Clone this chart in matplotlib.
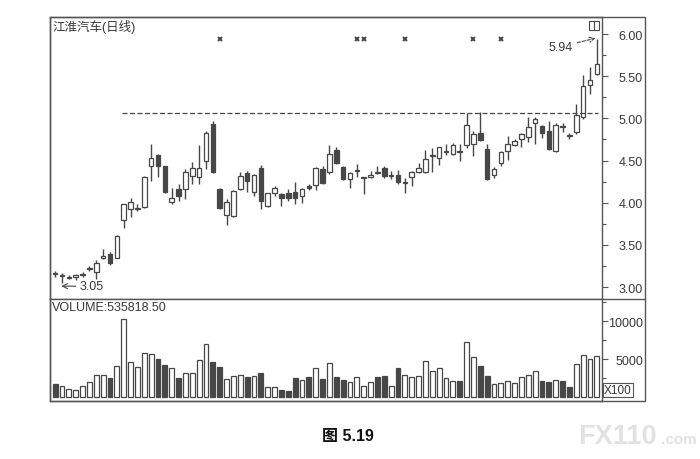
import numpy as np
import matplotlib.pyplot as plt
from matplotlib.patches import Rectangle
from matplotlib.lines import Line2D
from matplotlib.ticker import MultipleLocator

plt.rcParams['font.family'] = ['Liberation Sans', 'Noto Sans CJK SC']

# daily OHLC (80 sessions)
opens = [3.17, 3.13, 3.11, 3.12, 3.14, 3.21, 3.18, 3.35, 3.39, 3.35,
         3.80, 3.93, 3.92, 3.95, 4.43, 4.56, 4.43, 4.01, 4.16, 4.16,
         4.32, 4.30, 4.50, 4.93, 4.16, 3.85, 3.84, 4.16, 4.35, 4.13,
         4.41, 3.96, 4.12, 4.10, 4.12, 4.13, 4.08, 4.20, 4.21, 4.40,
         4.36, 4.62, 4.42, 4.28, 4.37, 4.29, 4.30, 4.36, 4.41, 4.32,
         4.33, 4.23, 4.30, 4.36, 4.36, 4.55, 4.53, 4.60, 4.58, 4.61,
         4.68, 4.70, 4.83, 4.64, 4.33, 4.47, 4.61, 4.68, 4.76, 4.78,
         4.94, 4.91, 4.85, 4.61, 4.91, 4.80, 4.84, 5.01, 5.40, 5.53]
highs = [3.19, 3.17, 3.14, 3.16, 3.18, 3.25, 3.32, 3.45, 3.41, 3.62,
         3.99, 4.06, 3.98, 4.32, 4.70, 4.58, 4.44, 4.18, 4.22, 4.40,
         4.48, 4.68, 4.85, 4.97, 4.17, 4.04, 4.15, 4.36, 4.38, 4.34,
         4.45, 4.12, 4.20, 4.11, 4.16, 4.25, 4.18, 4.22, 4.42, 4.43,
         4.68, 4.66, 4.43, 4.36, 4.46, 4.31, 4.38, 4.43, 4.43, 4.37,
         4.39, 4.29, 4.37, 4.47, 4.63, 4.65, 4.66, 4.70, 4.71, 4.70,
         5.06, 4.85, 5.08, 4.70, 4.42, 4.61, 4.79, 4.75, 4.83, 5.02,
         5.01, 4.92, 4.97, 4.94, 4.95, 4.83, 5.17, 5.51, 5.61, 5.94]
lows = [3.12, 3.05, 3.09, 3.08, 3.12, 3.19, 3.10, 3.33, 3.26, 3.34,
        3.70, 3.83, 3.90, 3.94, 4.26, 4.30, 4.12, 3.99, 4.02, 4.04,
        4.22, 4.22, 4.40, 4.35, 3.93, 3.73, 3.83, 4.15, 4.13, 4.08,
        3.93, 3.95, 4.08, 3.96, 4.02, 3.98, 4.00, 4.15, 4.15, 4.22,
        4.34, 4.46, 4.27, 4.18, 4.30, 4.10, 4.29, 4.34, 4.29, 4.28,
        4.22, 4.12, 4.20, 4.35, 4.35, 4.36, 4.45, 4.57, 4.57, 4.50,
        4.65, 4.55, 4.73, 4.27, 4.29, 4.44, 4.51, 4.67, 4.66, 4.72,
        4.69, 4.77, 4.63, 4.60, 4.84, 4.76, 4.81, 4.99, 5.29, 5.51]
closes = [3.15, 3.14, 3.12, 3.14, 3.16, 3.23, 3.29, 3.37, 3.28, 3.61,
          3.98, 4.01, 3.94, 4.30, 4.53, 4.43, 4.13, 4.05, 4.08, 4.36,
          4.41, 4.41, 4.83, 4.36, 3.94, 4.01, 4.14, 4.32, 4.26, 4.33,
          4.02, 4.11, 4.18, 4.06, 4.06, 4.06, 4.16, 4.18, 4.41, 4.23,
          4.58, 4.47, 4.28, 4.35, 4.39, 4.30, 4.33, 4.35, 4.32, 4.33,
          4.24, 4.25, 4.36, 4.41, 4.52, 4.56, 4.66, 4.61, 4.68, 4.60,
          4.92, 4.82, 4.74, 4.28, 4.40, 4.60, 4.70, 4.73, 4.81, 4.90,
          4.99, 4.83, 4.64, 4.92, 4.90, 4.79, 5.04, 5.38, 5.46, 5.65]
# volume in lots of 100 shares
volumes = [1710, 1490, 1050, 920, 1490, 1930, 2940, 2940, 2460, 4120,
           10260, 4560, 3900, 5750, 5660, 5000, 4210, 3820, 2500, 3160,
           3160, 4910, 6970, 4560, 3900, 2370, 2810, 2900, 2680, 2810,
           3110, 1270, 1270, 960, 830, 2500, 2240, 2680, 3820, 2370,
           4470, 2680, 2240, 1930, 2590, 1490, 1930, 2680, 2810, 1490,
           3820, 2900, 2680, 2720, 4690, 3380, 3820, 2460, 2060, 2150,
           7280, 5220, 4120, 2810, 1710, 1800, 2060, 1800, 2680, 2900,
           3380, 2060, 1930, 2240, 2150, 1360, 4340, 5530, 5000, 5350]

signal_days = [24, 44, 45, 51, 61, 65]
signal_price = 5.94
resistance = 5.06
resistance_start = 10
price_ticks = [3.00, 3.50, 4.00, 4.50, 5.00, 5.50, 6.00]
volume_ticks = [5000, 10000]

W, H = 700, 460
INK = '#474747'
TXT = '#3a3a3a'


def fx(px):
    return px / W


def fy(py):
    return 1 - py / H


def main():
    o = np.array(opens)
    h = np.array(highs)
    l = np.array(lows)
    c = np.array(closes)
    v = np.array(volumes)
    idx = np.arange(len(o))
    down = c < o

    fig = plt.figure(figsize=(W / 100, H / 100), dpi=100)
    ax = fig.add_axes([fx(50), fy(300), fx(552), 282 / H])
    axv = fig.add_axes([fx(50), fy(402), fx(552), 102 / H])

    # --- candles ---
    ax.vlines(idx, l, h, color=INK, lw=1, zorder=1)
    body_lo = np.minimum(o, c)
    body_h = np.maximum(np.abs(c - o), 0.008)
    face = np.where(down, INK, 'white')
    ax.bar(idx, body_h, bottom=body_lo, width=0.68, color=face,
           edgecolor=INK, lw=0.9, zorder=2)

    ax.hlines(resistance, resistance_start - 0.3, idx[-1] + 0.2,
              colors=INK, linestyles=(0, (4, 2)), lw=0.9)
    ax.plot(signal_days, [signal_price] * len(signal_days), 'x',
            color=INK, ms=3.5, mew=1.4)

    ax.annotate('5.94', xy=(idx[-1] - 0.2, 5.95), xytext=(72.0, 5.85),
                fontsize=9, color=TXT, ha='left', va='center',
                arrowprops=dict(arrowstyle='->', color=INK, lw=0.8,
                                linestyle=(0, (3, 1.5)), shrinkA=1, shrinkB=0))
    ax.annotate('3.05', xy=(0.9, 3.01), xytext=(3.6, 3.01),
                fontsize=9, color=TXT, ha='left', va='center',
                arrowprops=dict(arrowstyle='->', color=INK, lw=0.8,
                                shrinkA=1, shrinkB=0))
    ax.text(0.004, 0.968, '江淮汽车(日线)', transform=ax.transAxes,
            fontsize=9, color=TXT, va='center', ha='left')

    ax.set_xlim(-0.75, 79.75)
    ax.set_ylim(2.858, 6.2016)

    # --- volume ---
    vface = np.where(down, INK, 'white')
    axv.bar(idx, v, width=0.72, color=vface, edgecolor=INK, lw=0.9)
    axv.text(0.004, 0.92, 'VOLUME:535818.50', transform=axv.transAxes,
             fontsize=9, color=TXT, va='center', ha='left')
    axv.set_xlim(-0.75, 79.75)
    axv.set_ylim(-526, 12895)

    for a in (ax, axv):
        a.set_xticks([])
        a.yaxis.tick_right()
        for s in a.spines.values():
            s.set_color('#555555')
            s.set_linewidth(1)
        a.tick_params(axis='y', which='both', direction='out', colors='#555555',
                      labelcolor=TXT, labelsize=9, width=0.8)
        a.tick_params(axis='y', which='major', length=4)
        a.tick_params(axis='y', which='minor', length=3)

    ax.set_yticks(price_ticks)
    ax.set_yticklabels([f'{t:.2f}' for t in price_ticks])
    ax.yaxis.set_minor_locator(MultipleLocator(0.25))
    axv.set_yticks(volume_ticks)
    axv.set_yticklabels([str(t) for t in volume_ticks])
    axv.yaxis.set_minor_locator(MultipleLocator(2500))
    for a in (ax, axv):
        a.tick_params(axis='y', which='major', pad=25.5)
        for lab in a.get_yticklabels():
            lab.set_horizontalalignment('right')

    # outer frame incl. the label strip
    fig.add_artist(Rectangle((fx(50), fy(402)), fx(595), 384 / H, fill=False,
                             transform=fig.transFigure, ec='#555555', lw=1))
    fig.add_artist(Line2D([fx(602), fx(645)], [fy(300), fy(300)],
                          transform=fig.transFigure, color='#555555', lw=1))
    fig.text(fx(604), fy(391), 'X100', fontsize=8.5, color=TXT, va='center',
             ha='left', bbox=dict(boxstyle='square,pad=0.12', fc='white',
                                  ec='#555555', lw=0.8))
    # small window icon at top right
    fig.add_artist(Rectangle((fx(589), fy(31)), fx(10), 9 / H, fill=False,
                             transform=fig.transFigure, ec=INK, lw=0.8))
    fig.add_artist(Line2D([fx(594), fx(594)], [fy(31), fy(22)],
                          transform=fig.transFigure, color=INK, lw=0.8))

    fig.text(fx(348), fy(437), '图 5.19', fontsize=11.5, fontweight='bold',
             color='#111111', ha='center', va='center')
    fig.text(fx(578), fy(437), 'FX110', fontsize=19.5, fontweight='bold',
             color='#e2e2e2', ha='left', va='center')
    fig.text(fx(661), fy(440), '.com', fontsize=11, fontweight='bold',
             color='#e2e2e2', ha='left', va='center')

    fig.savefig('out.png', dpi=100)
    plt.close(fig)


if __name__ == '__main__':
    main()
